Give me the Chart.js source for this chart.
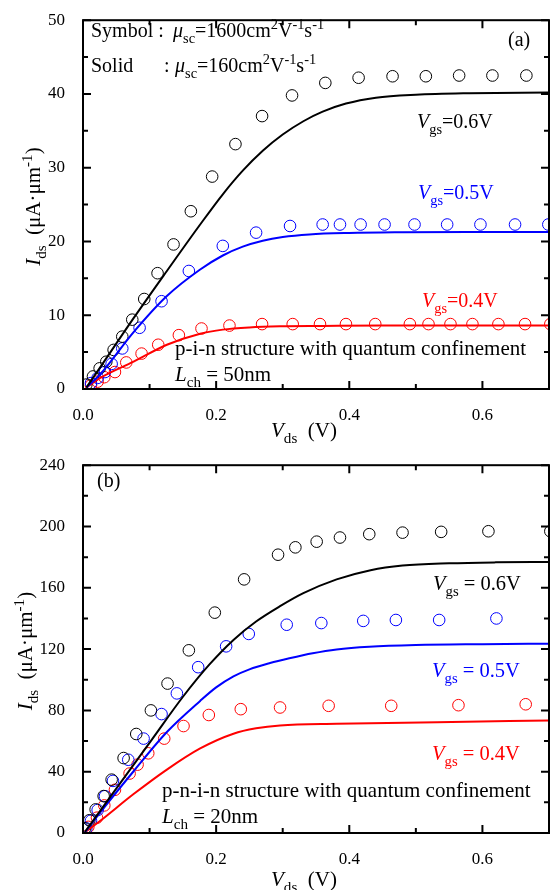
<!DOCTYPE html>
<html>
<head>
<meta charset="utf-8">
<script src="https://cdn.jsdelivr.net/npm/chart.js@4.4.0/dist/chart.umd.min.js"></script>
<style>
  html, body { margin: 0; padding: 0; background: #fff; }
  #wrap { position: relative; width: 557px; height: 890px; }
  canvas { position: absolute; left: 0; }
</style>
</head>
<body>
<div id="wrap">
  <canvas id="chartA" width="557" height="445" style="top:0"></canvas>
  <canvas id="chartB" width="557" height="445" style="top:445px"></canvas>
</div>
<script>
const SERIF = "'Liberation Serif', 'Times New Roman', serif";

// axis ticks
const X_TICKS = [0, 0.2, 0.4, 0.6];
const Y_TICKS_A = [0, 10, 20, 30, 40, 50];
const Y_TICKS_B = [0, 40, 80, 120, 160, 200, 240];

// (a) p-i-n, Lch = 50nm — symbols (mu = 1600)
const A_SYM06_X = [0.005, 0.015, 0.025, 0.035, 0.046, 0.059, 0.074, 0.092, 0.112, 0.136, 0.162, 0.194, 0.229, 0.269, 0.314, 0.364, 0.414, 0.465, 0.515, 0.565, 0.615, 0.666];
const A_SYM06_Y = [0.6, 1.7, 2.8, 3.7, 5.3, 7.1, 9.4, 12.2, 15.7, 19.6, 24.1, 28.8, 33.2, 37.0, 39.8, 41.5, 42.2, 42.4, 42.4, 42.5, 42.5, 42.5];
const A_SYM05_X = [0.012, 0.022, 0.033, 0.043, 0.059, 0.085, 0.118, 0.159, 0.210, 0.260, 0.311, 0.360, 0.386, 0.417, 0.453, 0.498, 0.547, 0.597, 0.649, 0.699];
const A_SYM05_Y = [0.8, 1.5, 2.3, 3.4, 5.5, 8.3, 11.9, 16.0, 19.4, 21.2, 22.1, 22.3, 22.3, 22.3, 22.3, 22.3, 22.3, 22.3, 22.3, 22.3];
const A_SYM04_X = [0.012, 0.022, 0.032, 0.048, 0.065, 0.088, 0.113, 0.144, 0.178, 0.220, 0.269, 0.315, 0.356, 0.395, 0.439, 0.491, 0.519, 0.552, 0.585, 0.624, 0.664, 0.702];
const A_SYM04_Y = [0.5, 1.0, 1.6, 2.3, 3.6, 4.8, 6.0, 7.3, 8.2, 8.6, 8.8, 8.8, 8.8, 8.8, 8.8, 8.8, 8.8, 8.8, 8.8, 8.8, 8.8, 8.8];
// (a) solid lines (mu = 160)
const A_LINE06_X = [0.005, 0.015, 0.076, 0.126, 0.176, 0.21, 0.24, 0.27, 0.3, 0.331, 0.36, 0.395, 0.44, 0.5, 0.58, 0.70];
const A_LINE06_Y = [0.2, 1.5, 9.6, 16.0, 22.3, 26.4, 29.6, 32.3, 34.5, 36.3, 37.6, 38.7, 39.5, 39.9, 40.1, 40.2];
const A_LINE05_X = [0.005, 0.026, 0.076, 0.126, 0.176, 0.21, 0.24, 0.27, 0.3, 0.34, 0.4, 0.48, 0.58, 0.70];
const A_LINE05_Y = [0.2, 2.0, 7.7, 12.6, 16.2, 18.1, 19.3, 20.1, 20.6, 20.95, 21.15, 21.25, 21.3, 21.3];
const A_LINE04_X = [0.005, 0.026, 0.076, 0.126, 0.176, 0.21, 0.25, 0.296, 0.36, 0.45, 0.58, 0.70];
const A_LINE04_Y = [0.2, 1.5, 3.7, 6.0, 7.5, 8.05, 8.35, 8.5, 8.55, 8.6, 8.6, 8.6];

// (b) p-n-i-n, Lch = 20nm — symbols
const B_SYM06_X = [0.003, 0.0095, 0.019, 0.031, 0.043, 0.061, 0.080, 0.102, 0.127, 0.159, 0.198, 0.242, 0.293, 0.319, 0.351, 0.386, 0.430, 0.480, 0.538, 0.609, 0.702];
const B_SYM06_Y = [3, 8.3, 15.4, 24.1, 34.8, 48.9, 64.6, 80, 97.5, 119.2, 143.8, 165.5, 181.6, 186.4, 190.1, 192.8, 195, 196, 196.5, 196.9, 196.9];
const B_SYM05_X = [0.005, 0.012, 0.022, 0.033, 0.045, 0.068, 0.091, 0.118, 0.141, 0.173, 0.215, 0.249, 0.306, 0.358, 0.421, 0.470, 0.535, 0.621];
const B_SYM05_Y = [3, 8, 15, 24, 34, 47.8, 61.6, 77.6, 91.1, 108.2, 121.8, 129.9, 135.9, 137, 138.4, 139, 139, 140];
const B_SYM04_X = [0.008, 0.021, 0.032, 0.048, 0.070, 0.082, 0.098, 0.122, 0.151, 0.189, 0.237, 0.296, 0.369, 0.463, 0.564, 0.665];
const B_SYM04_Y = [4, 10, 18, 28.2, 38.8, 44.6, 52, 61.6, 69.8, 77, 80.8, 81.9, 83, 83, 83.4, 84];
// (b) solid lines
const B_LINE06_X = [0.003, 0.051, 0.101, 0.151, 0.19, 0.226, 0.26, 0.296, 0.331, 0.381, 0.432, 0.48, 0.55, 0.62, 0.702];
const B_LINE06_Y = [0.8, 29.6, 59.5, 89.4, 110, 126, 138, 148, 156.5, 165.5, 171.5, 174.5, 176, 176.6, 176.8];
const B_LINE05_X = [0.003, 0.026, 0.076, 0.126, 0.176, 0.2, 0.226, 0.25, 0.281, 0.31, 0.345, 0.381, 0.43, 0.5, 0.6, 0.702];
const B_LINE05_Y = [0.5, 13.5, 40.3, 65.9, 86.2, 95, 102.2, 106.8, 110.9, 114, 117.3, 119.8, 121.6, 122.7, 123.2, 123.5];
const B_LINE04_X = [0.003, 0.026, 0.076, 0.126, 0.176, 0.226, 0.26, 0.296, 0.381, 0.532, 0.702];
const B_LINE04_Y = [0.5, 8, 25.4, 41.4, 55.2, 64.8, 68.3, 70.2, 71.3, 72.3, 73.4];

const BLACK = '#000000', BLUE = '#0000ff', RED = '#ff0000';

const pts = (xs, ys) => xs.map((x, i) => ({ x, y: ys[i] }));

const symbols = (xs, ys, color) => ({
  data: pts(xs, ys), showLine: false, pointStyle: 'circle', pointRadius: 5.8,
  pointBorderWidth: 1, pointBorderColor: color, pointBackgroundColor: 'rgba(0,0,0,0)'
});
const solid = (xs, ys, color) => ({
  data: pts(xs, ys), showLine: true, pointRadius: 0, borderColor: color, borderWidth: 2,
  cubicInterpolationMode: 'monotone'
});

// rich text: flags i = italic, b = subscript, p = superscript
function rich(ctx, x, y, parts, size, color, draw = true) {
  let cx = x;
  for (const [t, f = ''] of parts) {
    const small = f.includes('b') || f.includes('p');
    const fs = small ? size * 0.72 : size;
    ctx.font = `${f.includes('i') ? 'italic ' : ''}${fs}px ${SERIF}`;
    const dy = f.includes('b') ? size * 0.28 : f.includes('p') ? -size * 0.4 : 0;
    if (draw) { ctx.fillStyle = color; ctx.fillText(t, cx, y + dy); }
    cx += ctx.measureText(t).width;
  }
  return cx - x;
}

const X_TITLE = [['V', 'i'], ['ds', 'b'], ['  (V)', '']];
const Y_TITLE = [['I', 'i'], ['ds', 'b'], ['  (μA·μm', ''], ['-1', 'p'], [')', '']];
const vgs = (v, sp) => [['V', 'i'], ['gs', 'b'], [sp ? ' = ' + v : '=' + v, '']];
const lch = (v) => [['L', 'i'], ['ch', 'b'], [' = ' + v, '']];
const mu = (v) => [['μ', 'i'], ['sc', 'b'], ['=' + v + 'cm', ''], ['2', 'p'], ['V', ''], ['-1', 'p'], ['s', ''], ['-1', 'p']];

const TEXT_A = [
  { x: 91, y: 37, parts: [['Symbol :', '']], size: 20, color: BLACK },
  { x: 173, y: 37, parts: mu('1600'), size: 20, color: BLACK },
  { x: 91, y: 72, parts: [['Solid', '']], size: 20, color: BLACK },
  { x: 164, y: 72, parts: [[':', '']], size: 20, color: BLACK },
  { x: 175, y: 72, parts: mu('160'), size: 20, color: BLACK },
  { x: 508, y: 46, parts: [['(a)', '']], size: 20, color: BLACK },
  { x: 417, y: 128, parts: vgs('0.6V', false), size: 20, color: BLACK },
  { x: 418, y: 199, parts: vgs('0.5V', false), size: 20, color: BLUE },
  { x: 422, y: 307, parts: vgs('0.4V', false), size: 20, color: RED },
  { x: 175, y: 355, parts: [['p-i-n structure with quantum confinement', '']], size: 21, color: BLACK },
  { x: 175, y: 381, parts: lch('50nm'), size: 21, color: BLACK },
];
const TEXT_B = [
  { x: 97, y: 42, parts: [['(b)', '']], size: 20, color: BLACK },
  { x: 433, y: 145, parts: vgs('0.6V', true), size: 20.5, color: BLACK },
  { x: 432, y: 232, parts: vgs('0.5V', true), size: 20.5, color: BLUE },
  { x: 432, y: 315, parts: vgs('0.4V', true), size: 20.5, color: RED },
  { x: 162, y: 352, parts: [['p-n-i-n structure with quantum confinement', '']], size: 21, color: BLACK },
  { x: 162, y: 378, parts: lch('20nm'), size: 21, color: BLACK },
];

function framePlugin(yTicks, texts, yTitleX, xTitleY) {
  return {
    id: 'frame',
    afterDraw(chart) {
      const { ctx, chartArea: a, scales: { x, y } } = chart;
      ctx.save();
      ctx.strokeStyle = '#000';
      ctx.lineWidth = 2;
      ctx.strokeRect(a.left, a.top, a.right - a.left, a.bottom - a.top);
      ctx.beginPath();
      const xMinor = X_TICKS.map(v => v + 0.1).filter(v => v < x.max - 1e-6);
      X_TICKS.forEach(v => {
        const px = x.getPixelForValue(v);
        ctx.moveTo(px, a.bottom); ctx.lineTo(px, a.bottom - 8);
        ctx.moveTo(px, a.top); ctx.lineTo(px, a.top + 8);
      });
      xMinor.forEach(v => {
        const px = x.getPixelForValue(v);
        ctx.moveTo(px, a.bottom); ctx.lineTo(px, a.bottom - 5);
        ctx.moveTo(px, a.top); ctx.lineTo(px, a.top + 5);
      });
      const step = yTicks[1] - yTicks[0];
      yTicks.forEach((v, i) => {
        const py = y.getPixelForValue(v);
        ctx.moveTo(a.left, py); ctx.lineTo(a.left + 8, py);
        ctx.moveTo(a.right, py); ctx.lineTo(a.right - 8, py);
        if (i < yTicks.length - 1) {
          const pm = y.getPixelForValue(v + step / 2);
          ctx.moveTo(a.left, pm); ctx.lineTo(a.left + 5, pm);
          ctx.moveTo(a.right, pm); ctx.lineTo(a.right - 5, pm);
        }
      });
      ctx.stroke();

      ctx.textBaseline = 'alphabetic';
      ctx.textAlign = 'left';
      texts.forEach(t => rich(ctx, t.x, t.y, t.parts, t.size, t.color));

      rich(ctx, 271, xTitleY, X_TITLE, 21, BLACK);

      const w = rich(ctx, 0, 0, Y_TITLE, 21, BLACK, false);
      ctx.translate(yTitleX, (a.top + a.bottom) / 2 + 2);
      ctx.rotate(-Math.PI / 2);
      rich(ctx, -w / 2, 0, Y_TITLE, 21, BLACK);
      ctx.restore();
    }
  };
}

function makeChart(id, datasets, yMax, yTicks, top, bottom, texts, yTitleX, xTitleY) {
  const canvas = document.getElementById(id);
  const H = canvas.height;
  return new Chart(canvas, {
    type: 'scatter',
    data: { datasets },
    options: {
      responsive: false,
      animation: false,
      layout: { padding: { top: top, right: 8, left: 0, bottom: 0 } },
      plugins: { legend: { display: false }, tooltip: { enabled: false } },
      scales: {
        x: {
          type: 'linear', min: 0, max: 0.7,
          afterBuildTicks: s => { s.ticks = X_TICKS.map(v => ({ value: v })); },
          afterFit: s => { s.height = H - bottom; },
          grid: { display: false }, border: { display: false },
          ticks: { color: '#000', font: { family: SERIF, size: 17 }, padding: 8, maxRotation: 0, autoSkip: false,
                   callback: v => Number(v).toFixed(1) }
        },
        y: {
          type: 'linear', min: 0, max: yMax,
          afterBuildTicks: s => { s.ticks = yTicks.map(v => ({ value: v })); },
          afterFit: s => { s.width = 83; },
          grid: { display: false }, border: { display: false },
          ticks: { color: '#000', font: { family: SERIF, size: 17 }, padding: 10, autoSkip: false }
        }
      }
    },
    plugins: [framePlugin(yTicks, texts, yTitleX, xTitleY)]
  });
}

makeChart('chartA', [
  solid(A_LINE06_X, A_LINE06_Y, BLACK),
  solid(A_LINE05_X, A_LINE05_Y, BLUE),
  solid(A_LINE04_X, A_LINE04_Y, RED),
  symbols(A_SYM06_X, A_SYM06_Y, BLACK),
  symbols(A_SYM05_X, A_SYM05_Y, BLUE),
  symbols(A_SYM04_X, A_SYM04_Y, RED),
], 50, Y_TICKS_A, 12, 389, TEXT_A, 40, 437);

makeChart('chartB', [
  solid(B_LINE06_X, B_LINE06_Y, BLACK),
  solid(B_LINE05_X, B_LINE05_Y, BLUE),
  solid(B_LINE04_X, B_LINE04_Y, RED),
  symbols(B_SYM06_X, B_SYM06_Y, BLACK),
  symbols(B_SYM05_X, B_SYM05_Y, BLUE),
  symbols(B_SYM04_X, B_SYM04_Y, RED),
], 240, Y_TICKS_B, 12, 388, TEXT_B, 32, 441);
</script>
</body>
</html>
